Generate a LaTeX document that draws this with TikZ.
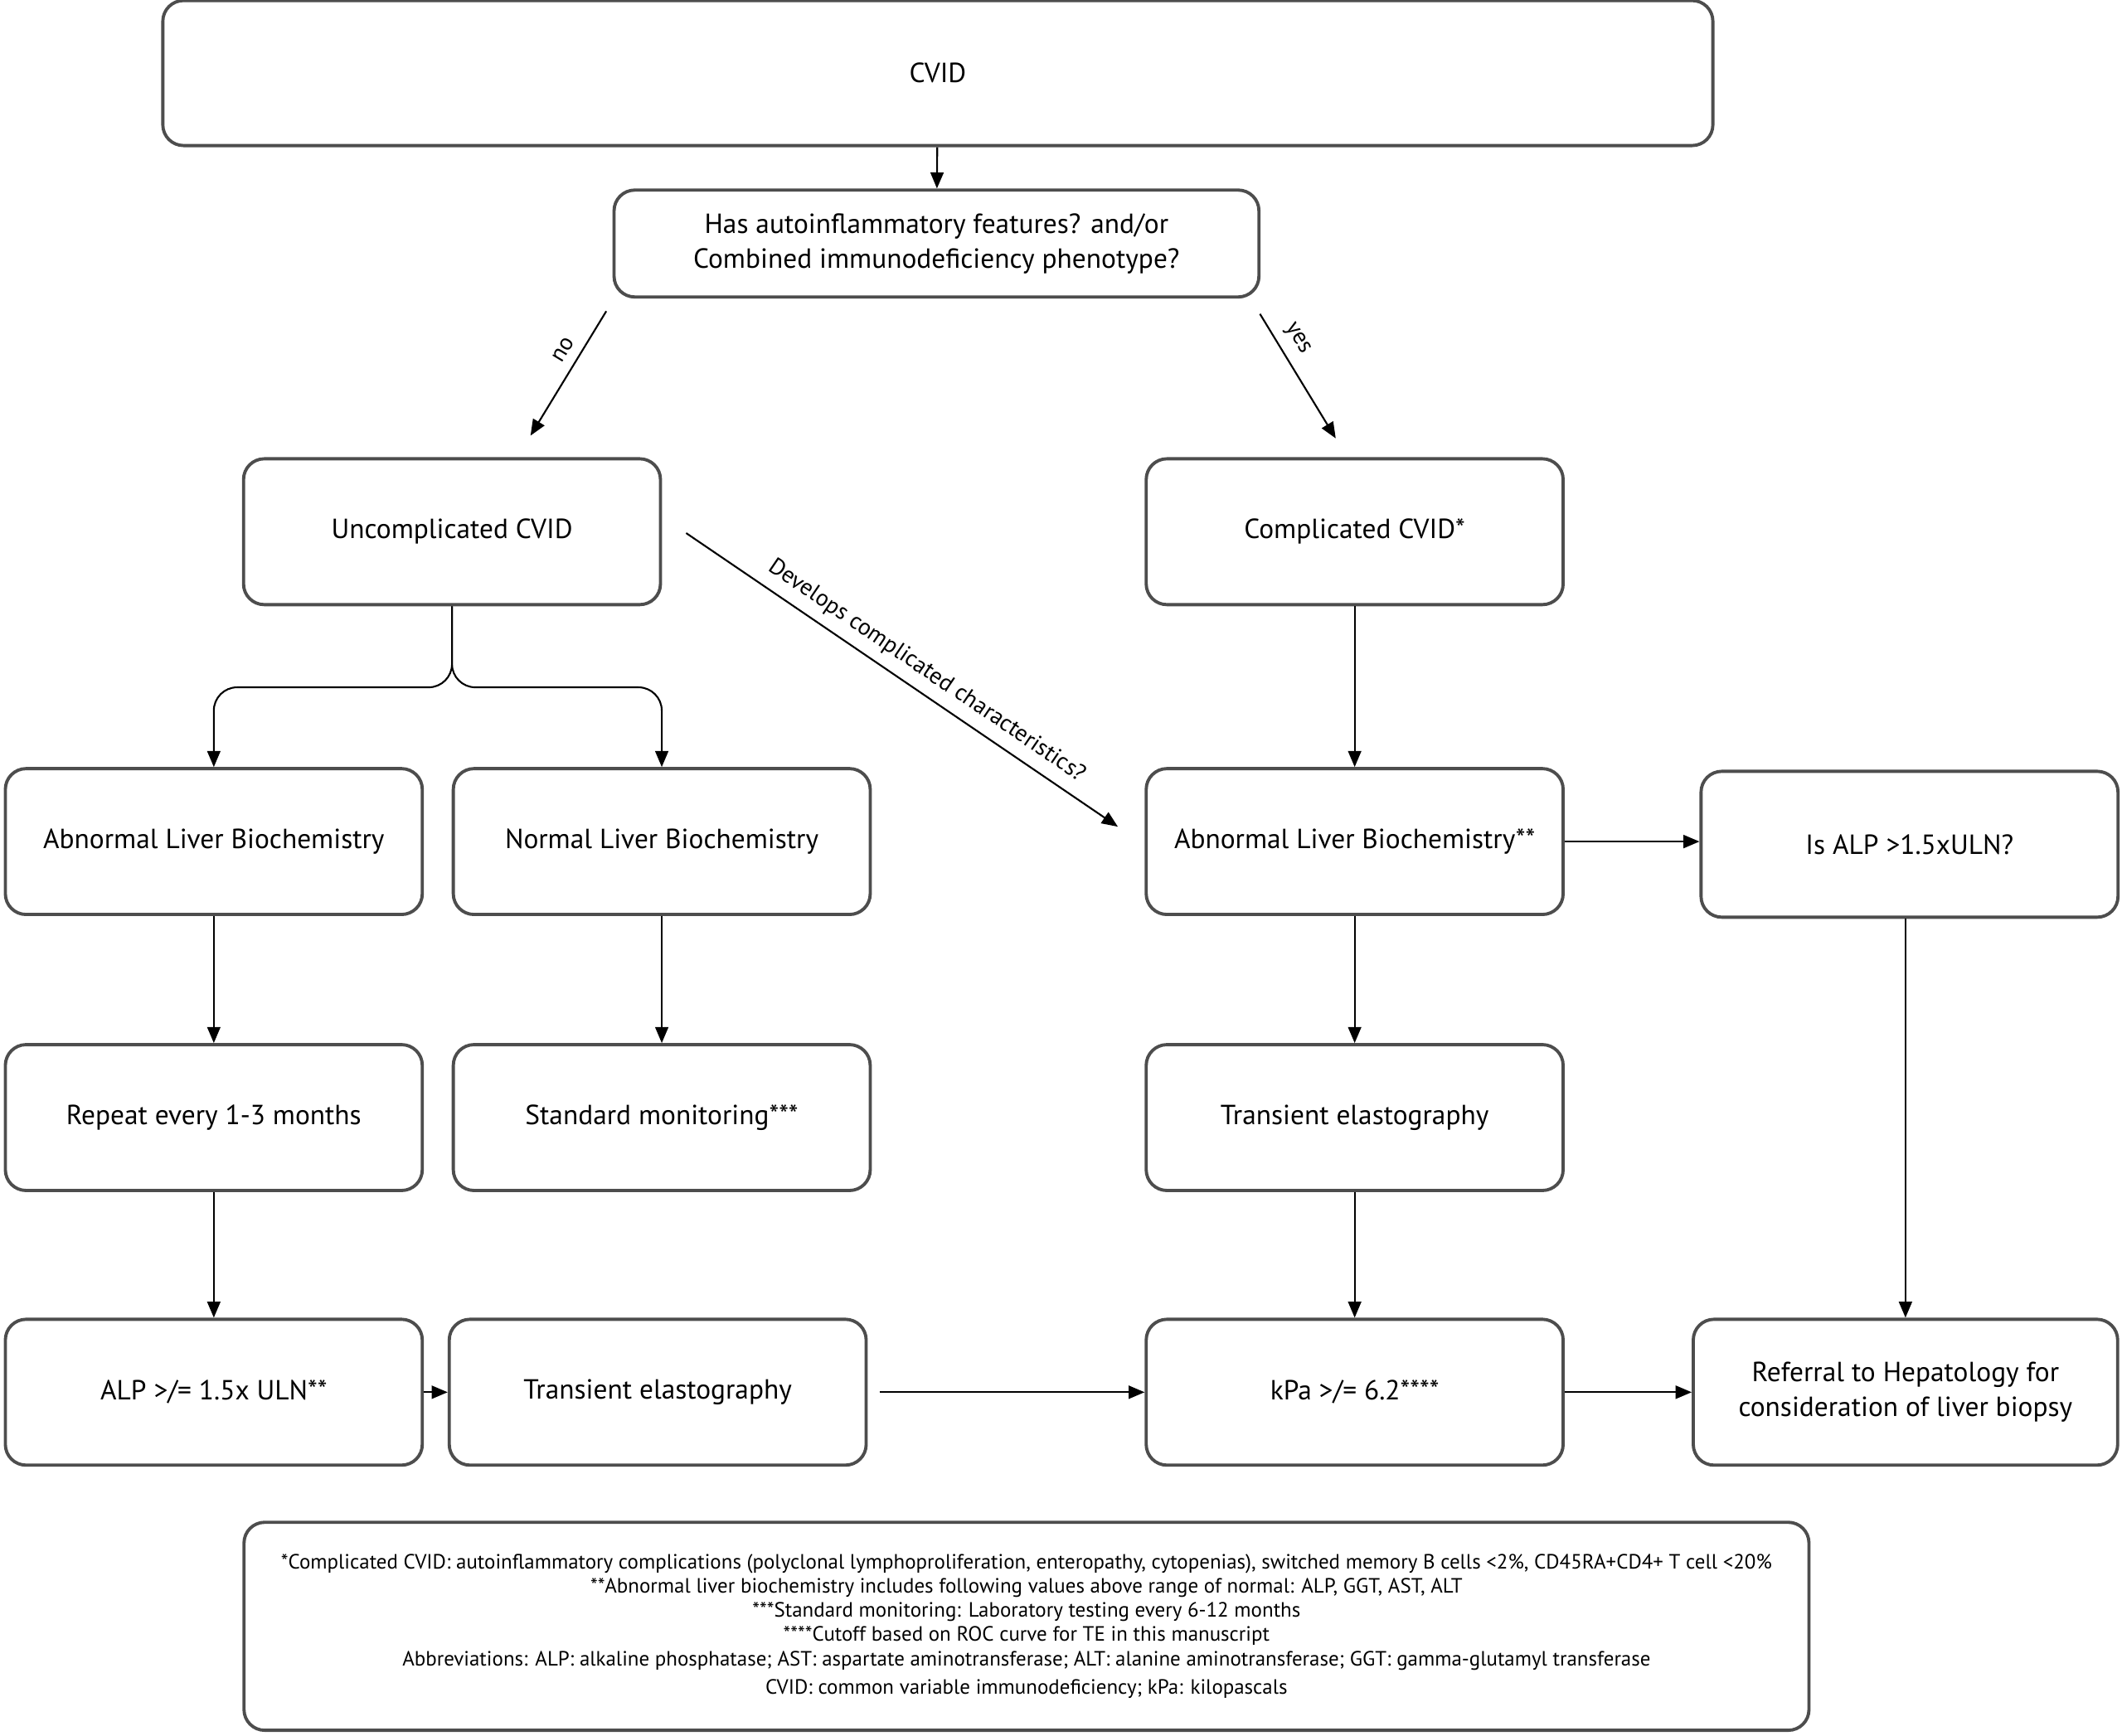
\documentclass[tikz,border=0pt]{standalone}
\usepackage{fontspec}
\setmainfont{PT Sans}
\usetikzlibrary{arrows.meta}
\definecolor{boxgray}{HTML}{4D4D4D}
\begin{document}
\begin{tikzpicture}[x=0.01632cm, y=-0.01632cm,
    stepbox/.style={draw=boxgray, line width=1.1pt, rounded corners=0.25cm, align=center,
        minimum width=5.03cm, minimum height=1.76cm, font=\fontsize{9.5}{12}\selectfont},
    arr/.style={-{Triangle[length=5.5pt, width=4.5pt]}, line width=0.6pt},
    lbl/.style={font=\fontsize{8}{10}\selectfont, sloped}]
    \useasboundingbox (0,0) rectangle (1568,1282.5);
    % top of the chart
    \node[stepbox, minimum width=18.7cm, minimum height=1.75cm] (cvid) at (693,54) {CVID};
    \node[stepbox, minimum width=7.78cm, minimum height=1.29cm] (quest) at (692,180)
        {Has autoinflammatory features? and/or\\Combined immunodeficiency phenotype?};
    \node[stepbox] (uncomp) at (334,393) {Uncomplicated CVID};
    \node[stepbox] (comp) at (1001,393) {Complicated CVID*};
    % second row
    \node[stepbox] (abnlb) at (158,622) {Abnormal Liver Biochemistry};
    \node[stepbox] (normlb) at (489,622) {Normal Liver Biochemistry};
    \node[stepbox] (abnlbc) at (1001,622) {Abnormal Liver Biochemistry**};
    \node[stepbox] (isalp) at (1411,624) {Is ALP >1.5xULN?};
    % third row
    \node[stepbox] (repeat) at (158,826) {Repeat every 1-3 months};
    \node[stepbox] (stdmon) at (489,826) {Standard monitoring***};
    \node[stepbox] (teright) at (1001,826) {Transient elastography};
    % bottom row
    \node[stepbox] (alp) at (158,1029) {ALP >/= 1.5x ULN**};
    \node[stepbox] (teleft) at (486,1029) {Transient elastography};
    \node[stepbox] (kpa) at (1001,1029) {kPa >/= 6.2****};
    \node[stepbox, minimum width=5.12cm] (referral) at (1408,1029)
        {Referral to Hepatology for\\consideration of liver biopsy};
    % footnotes
    \node[stepbox, minimum width=18.88cm, minimum height=2.51cm, font=\fontsize{7.1}{8.3}\selectfont] (notes) at (758.5,1202)
        {*Complicated CVID: autoinflammatory complications (polyclonal lymphoproliferation, enteropathy, cytopenias), switched memory B cells <2\%, CD45RA+CD4+ T cell <20\%\\
         **Abnormal liver biochemistry includes following values above range of normal: ALP, GGT, AST, ALT\\
         ***Standard monitoring: Laboratory testing every 6-12 months\\
         ****Cutoff based on ROC curve for TE in this manuscript\\
         Abbreviations: ALP: alkaline phosphatase; AST: aspartate aminotransferase; ALT: alanine aminotransferase; GGT: gamma-glutamyl transferase\\[1.5pt]
         CVID: common variable immunodeficiency; kPa: kilopascals};
    % connectors
    \coordinate (nostart) at (448,230);
    \coordinate (noend) at (392,322);
    \coordinate (yesstart) at (931,232);
    \coordinate (yesend) at (987,324);
    \coordinate (devstart) at (507,394);
    \coordinate (devend) at (826,611);
    \coordinate (fork) at (334,508);
    \draw[arr] (cvid) -- (quest);
    \draw[arr] (nostart) -- node[lbl, above, pos=0.38] {no} (noend);
    \draw[arr] (yesstart) -- node[lbl, above, pos=0.28] {yes} (yesend);
    \draw[arr] (devstart) -- node[lbl, above, pos=0.53] {Develops complicated characteristics?} (devend);
    \draw[arr, rounded corners=8pt] (uncomp) -- (fork) -| (abnlb);
    \draw[arr, rounded corners=8pt] (uncomp) -- (fork) -| (normlb);
    \draw[arr] (comp) -- (abnlbc);
    \draw[arr] (abnlbc) -- (abnlbc -| isalp.west);
    \draw[arr] (abnlb) -- (repeat);
    \draw[arr] (repeat) -- (alp);
    \draw[arr] (alp) -- (teleft);
    \draw[arr] (normlb) -- (stdmon);
    \draw[arr] (abnlbc) -- (teright);
    \draw[arr] (teright) -- (kpa);
    \draw[arr] ([xshift=4pt]teleft.east) -- (kpa);
    \draw[arr] (kpa) -- (referral);
    \draw[arr] (referral.north |- isalp.south) -- (referral);
\end{tikzpicture}
\end{document}
